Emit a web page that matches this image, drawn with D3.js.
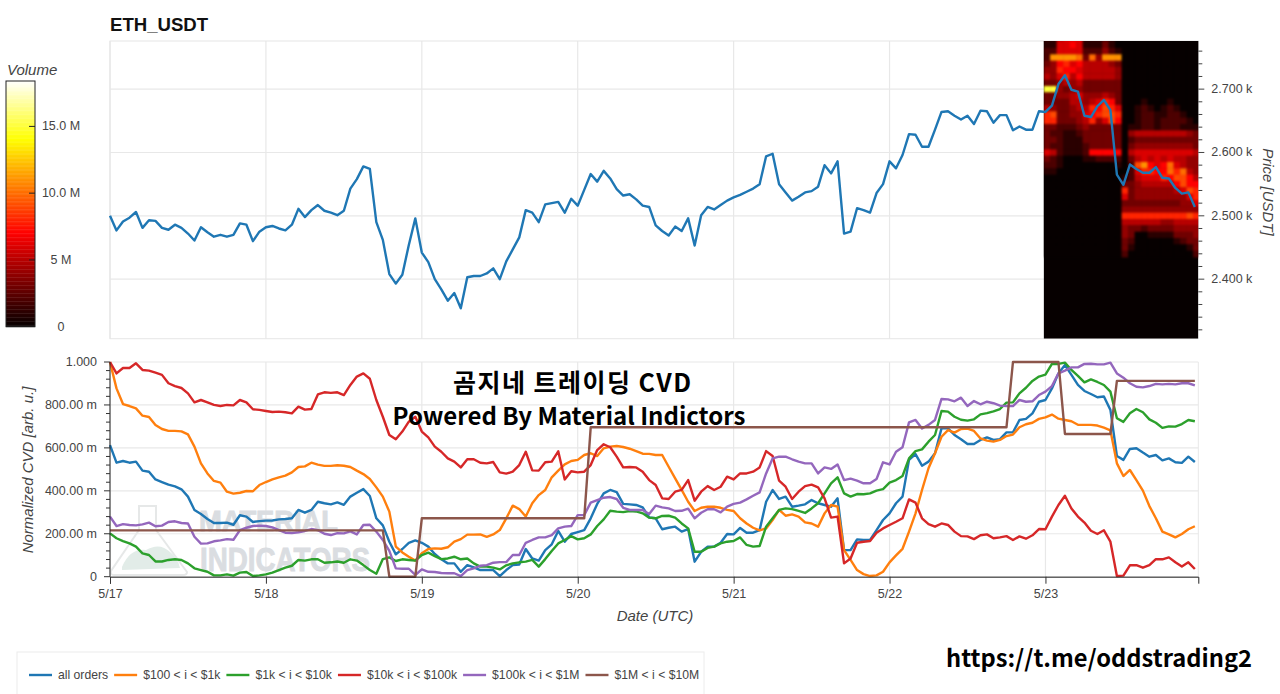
<!DOCTYPE html>
<html>
<head>
<meta charset="utf-8">
<title>ETH_USDT CVD</title>
<script src="https://cdn.jsdelivr.net/npm/d3@7/dist/d3.min.js"></script>
<style>
body { margin: 0; background: #fff; }
text { font-family: "Liberation Sans", Arial, sans-serif; }
</style>
</head>
<body>
<div id="chart"></div>
<script>
// hourly close, one value per hour from 5/17 00:00
var price = [2500,2477,2491,2497,2506,2481,2493,2492,2481,2478,2486,2481,2472,2461,2482,2474,2467,2470,2467,2470,2488,2486,2460,2475,
  2482,2484,2480,2477,2486,2511,2498,2509,2517,2508,2505,2501,2508,2543,2558,2578,2574,2490,2462,2408,2393,2407,2454,2496,
  2442,2427,2400,2384,2366,2378,2354,2403,2405,2405,2409,2417,2400,2428,2447,2466,2509,2505,2490,2518,2520,2522,2505,2527,
  2516,2541,2566,2554,2571,2559,2542,2532,2534,2526,2516,2514,2485,2476,2469,2483,2476,2496,2453,2501,2514,2510,2517,2524,
  2529,2533,2538,2543,2550,2594,2598,2550,2537,2524,2530,2537,2539,2546,2580,2567,2586,2472,2475,2512,2509,2505,2536,2550,
  2586,2575,2596,2629,2628,2609,2609,2636,2664,2665,2658,2652,2658,2645,2666,2665,2647,2659,2659,2635,2641,2636,2636,2665,
  2664,2674,2708,2722,2699,2696,2658,2656,2673,2683,2667,2565,2549,2581,2574,2568,2568,2577,2560,2559,2544,2535,2537,2514];

// normalized CVD in milli units
var cvdAll = [613,531,539,531,536,494,489,453,441,429,421,407,373,311,292,269,250,250,252,242,286,280,255,259,
  261,262,267,269,272,311,298,311,349,342,337,346,335,373,391,408,376,272,239,163,104,129,158,169,
  158,140,106,81,62,62,23,54,43,31,31,31,3,31,54,57,129,85,75,124,151,213,163,199,
  208,217,272,339,388,404,394,339,337,334,323,276,272,221,228,233,210,222,70,116,140,140,158,199,
  197,227,205,205,217,349,404,362,373,326,331,337,357,342,334,326,365,124,124,174,171,171,217,264,
  295,342,373,544,571,517,536,575,691,691,660,640,618,618,637,649,637,641,672,672,730,735,761,815,
  823,877,947,986,940,893,865,851,836,839,777,562,544,595,598,578,559,567,542,551,533,530,559,534];
var cvd100 = [1000,877,804,795,784,750,744,707,688,679,679,677,663,606,528,481,446,438,396,387,391,399,398,427,
  441,453,463,471,486,511,514,531,522,516,516,519,517,511,494,478,455,416,373,303,140,113,93,75,
  109,129,132,130,137,163,175,196,196,197,186,197,217,272,331,315,280,342,380,404,463,494,523,539,
  544,567,575,562,598,606,609,604,596,585,573,572,567,567,512,458,404,349,306,321,326,326,321,311,
  306,272,248,228,216,225,264,311,284,290,280,253,248,233,295,334,326,124,78,31,12,3,6,23,
  67,99,130,210,295,404,505,575,652,683,671,688,690,679,644,634,629,637,655,662,696,710,717,735,
  742,755,736,730,724,708,707,707,704,694,682,528,469,497,450,401,329,272,210,197,183,199,221,235];
var cvd1k = [202,179,166,155,140,109,101,71,71,78,81,78,62,39,31,23,6,6,11,5,19,22,3,6,
  11,19,31,42,51,78,75,81,81,65,67,71,65,81,75,54,31,14,82,90,73,81,78,75,
  101,112,96,82,85,93,81,85,62,47,47,42,34,53,62,67,70,78,47,82,120,155,171,189,
  174,179,197,236,267,307,303,301,306,304,295,275,272,283,284,275,248,225,116,116,134,140,155,163,
  166,183,148,140,143,233,272,311,318,315,307,297,318,342,388,435,463,388,373,385,384,388,401,408,
  438,450,469,551,585,593,629,660,772,769,745,731,727,733,756,762,770,781,811,812,854,880,912,932,
  941,991,991,997,963,935,905,919,907,893,862,738,721,761,781,766,733,717,693,700,699,711,730,724];
var cvd10k = [1000,947,972,972,994,963,960,950,940,901,888,879,854,812,823,812,800,795,800,798,823,812,780,777,
  772,767,769,766,761,792,778,781,849,859,856,859,846,893,932,947,922,823,745,660,640,676,722,745,
  676,649,606,582,551,536,509,547,547,531,528,534,486,480,489,520,582,495,494,533,536,584,453,491,
  486,489,520,590,617,603,559,509,511,509,489,450,427,365,362,396,404,450,354,396,422,404,419,466,
  453,481,481,489,509,585,562,447,419,362,396,422,429,416,365,275,280,62,85,158,163,166,205,225,
  241,256,272,360,345,272,245,233,248,241,210,189,188,175,193,197,179,183,189,171,188,177,193,222,
  221,280,334,377,318,280,252,214,199,216,163,3,5,53,54,42,54,82,81,90,67,47,67,36];
var cvd100k = [280,236,245,241,239,244,252,235,238,255,258,250,248,186,154,155,165,169,175,172,217,228,236,238,
  236,230,217,205,203,207,213,222,217,200,194,203,202,211,197,241,242,210,171,120,39,37,37,8,
  34,23,22,17,16,16,3,31,39,51,54,65,68,68,101,101,158,171,183,183,194,225,233,236,
  287,287,345,357,368,371,362,321,311,311,311,292,331,323,318,306,307,317,272,298,314,314,300,326,
  339,345,360,377,393,481,551,559,559,547,536,528,528,481,509,502,523,450,457,447,435,435,455,533,
  523,582,603,719,730,690,707,730,828,826,817,834,795,818,803,815,808,797,795,795,823,815,817,846,
  862,888,947,960,975,975,991,992,989,989,997,947,927,901,885,882,888,898,896,898,896,901,901,891];
var cvd1m = [216,216,216,216,216,216,216,216,216,216,216,216,216,216,216,216,216,216,216,216,216,216,216,216,
  216,216,216,216,216,216,216,216,216,216,216,216,216,216,216,216,216,216,216,0,0,0,0,0,
  272,272,272,272,272,272,272,272,272,272,272,272,272,272,272,272,272,272,272,272,272,272,272,272,
  272,272,696,696,696,696,696,696,696,696,696,696,696,696,696,696,696,696,696,696,696,696,696,696,
  696,696,696,696,696,696,696,696,696,696,696,696,696,696,696,696,696,696,696,696,696,696,696,696,
  696,696,696,696,696,696,696,696,696,696,696,696,696,696,696,696,696,696,696,1000,1000,1000,1000,1000,
  1000,1000,1000,665,665,665,665,665,665,665,665,912,912,912,912,912,912,912,912,912,912,912,912,912];

var seriesNames = ["all orders", "$100 < i < $1k", "$1k < i < $10k", "$10k < i < $100k", "$100k < i < $1M", "$1M < i < $10M"];
var seriesColors = ["#1f77b4", "#ff7f0e", "#2ca02c", "#d62728", "#9467bd", "#8c564b"];
var seriesValues = [cvdAll, cvd100, cvd1k, cvd10k, cvd100k, cvd1m];

// order book heatmap for 5/23: price level, then volume (M) for each hour
var bookPrices = [2780,2770,2760,2750,2740,2730,2720,2710,2700,2690,2680,2670,2660,2650,2640,2630,2620,2610,2600,2590,2580,2570,2560,2550,2540,2530,2520,2510,2500,2490,2480,2470,2460,2450,2440];
var bookVolume = [
  [1,1,5,6,6,6,1,1,1,2,1,0,0,0,0,0,0,0,0,0,0,0,0,0],
  [1,1,6,6,7,6,1,1,1,3,1,0,0,0,0,0,0,0,0,0,0,0,0,0],
  [2,2,6,6,6,6,2,2,2,4,2,1,0,0,0,0,0,0,0,0,0,0,0,0],
  [2,11,11,11,11,10,3,10,4,11,11,11,0,0,0,0,0,0,0,0,0,0,0,0],
  [3,4,7,8,6,7,5,5,5,5,4,3,0,0,0,0,0,0,0,0,0,0,0,0],
  [4,4,8,7,7,6,5,5,5,5,5,4,0,0,0,0,0,0,0,0,0,0,0,0],
  [5,4,6,8,5,7,5,5,5,5,5,4,0,0,0,0,0,0,0,0,0,0,0,0],
  [3,3,4,5,4,5,3,3,3,3,3,3,0,0,0,0,0,0,0,0,0,0,0,0],
  [15,15,4,3,4,4,3,3,3,3,3,3,0,0,0,0,0,0,0,0,0,0,0,0],
  [3,3,4,4,5,6,4,4,4,5,4,3,0,0,0,0,0,0,0,0,0,0,0,0],
  [3,3,3,3,5,5,4,5,6,8,7,3,0,0,0,1,0,0,0,1,0,0,0,0],
  [5,4,3,3,4,5,5,8,7,9,8,6,0,0,1,2,1,0,1,2,1,0,0,0],
  [8,9,3,3,4,4,6,7,8,9,9,8,0,0,1,2,2,1,1,2,2,1,0,0],
  [8,8,3,3,3,4,5,8,4,6,9,7,0,0,1,2,2,1,2,2,2,2,1,0],
  [3,3,2,2,2,3,4,3,3,3,3,3,0,1,1,2,2,1,2,2,2,1,1,1],
  [3,2,2,1,1,2,3,3,3,3,3,3,0,4,5,5,5,5,5,5,5,5,4,3],
  [3,3,2,1,1,1,3,3,3,3,3,3,0,2,3,3,3,3,3,3,3,3,3,3],
  [3,2,2,1,1,1,2,3,3,3,3,3,0,3,4,4,4,4,4,4,4,4,4,3],
  [6,5,2,1,1,1,2,7,7,7,7,7,0,5,6,6,6,6,6,6,6,6,6,5],
  [3,2,1,0,0,0,1,1,2,2,2,2,0,3,5,6,5,6,5,6,5,5,4,4],
  [2,2,1,0,0,0,0,0,0,0,0,1,0,2,9,11,7,6,7,10,6,5,4,4],
  [1,1,0,0,0,0,0,0,0,0,0,0,0,2,6,8,8,7,7,10,8,10,5,4],
  [0,0,0,0,0,0,0,0,0,0,0,0,1,2,5,6,6,6,8,7,9,9,7,5],
  [0,0,0,0,0,0,0,0,0,0,0,0,3,3,4,5,5,5,5,5,7,9,7,7],
  [0,0,0,0,0,0,0,0,0,0,0,0,8,3,4,4,4,4,4,4,5,6,9,8],
  [0,0,0,0,0,0,0,0,0,0,0,0,6,3,4,4,4,4,4,4,4,4,6,8],
  [0,0,0,0,0,0,0,0,0,0,0,0,3,3,3,3,3,3,3,3,3,4,4,6],
  [0,0,0,0,0,0,0,0,0,0,0,0,4,4,4,4,4,4,4,4,4,4,4,4],
  [0,0,0,0,0,0,0,0,0,0,0,0,8,8,8,8,8,8,8,8,8,8,9,8],
  [0,0,0,0,0,0,0,0,0,0,0,0,5,5,5,5,5,5,4,4,5,5,5,5],
  [0,0,0,0,0,0,0,0,0,0,0,0,4,3,3,2,3,3,3,3,4,4,4,4],
  [0,0,0,0,0,0,0,0,0,0,0,0,4,3,0,0,1,1,1,1,3,3,3,4],
  [0,0,0,0,0,0,0,0,0,0,0,0,3,2,0,0,0,0,0,0,1,2,3,3],
  [0,0,0,0,0,0,0,0,0,0,0,0,3,1,0,0,0,0,0,0,0,0,1,3],
  [0,0,0,0,0,0,0,0,0,0,0,0,2,0,0,0,0,0,0,0,0,0,0,2]
];

var priceTicks = [2400, 2500, 2600, 2700];
var cvdTicks = [0, 200, 400, 600, 800, 1000];
var volumeTicks = [0, 5, 10, 15];

var width = 1280, height = 694;
var svg = d3.select("#chart").append("svg")
  .attr("width", width).attr("height", height)
  .style("display", "block");

var startDate = Date.UTC(2025, 4, 17);
function hourDate(i) { return new Date(startDate + i * 3600000); }

var x = d3.scaleUtc().domain([hourDate(0), hourDate(167.53)]).range([110, 1198.3]);
var yPrice = d3.scaleLinear().domain([2306, 2776]).range([338.7, 41]);
var yCvd = d3.scaleLinear().domain([0, 1000]).range([576.7, 362]);
var yVolume = d3.scaleLinear().domain([0, 18.4]).range([326.7, 81]);
var heat = d3.scaleLinear().domain([0, 7, 14, 18.4]).range(["#060000", "#ff0000", "#ffff00", "#ffffff"]);

var dayTicks = d3.utcDay.range(hourDate(0), hourDate(168));
var axisColor = "#444";

// title
svg.append("text").attr("x", 110).attr("y", 31).attr("font-size", 18.6).attr("font-weight", "bold")
  .attr("fill", "#111").text("ETH_USDT");

// --- top panel ---
var topPanel = svg.append("g");
topPanel.selectAll(".gridx").data(dayTicks).enter().append("line")
  .attr("x1", function(d){ return x(d); }).attr("x2", function(d){ return x(d); })
  .attr("y1", yPrice.range()[1]).attr("y2", yPrice.range()[0])
  .attr("stroke", "#e8e8e8").attr("stroke-width", 1.2);
topPanel.selectAll(".gridy").data(priceTicks).enter().append("line")
  .attr("x1", x.range()[0]).attr("x2", x.range()[1])
  .attr("y1", function(d){ return yPrice(d); }).attr("y2", function(d){ return yPrice(d); })
  .attr("stroke", "#e8e8e8").attr("stroke-width", 1.2);
topPanel.append("rect").attr("x", x.range()[0]).attr("y", yPrice.range()[1])
  .attr("width", x.range()[1] - x.range()[0]).attr("height", yPrice.range()[0] - yPrice.range()[1])
  .attr("fill", "none").attr("stroke", "#e6e6e6");

// heatmap, columns start a bit before the hour
var hourOffset = 144 - 0.28;
var heatLeft = x(hourDate(hourOffset));
svg.append("clipPath").attr("id", "plotClip").append("rect")
  .attr("x", heatLeft).attr("y", yPrice.range()[1])
  .attr("width", x.range()[1] - heatLeft).attr("height", yPrice.range()[0] - yPrice.range()[1]);
var soften = svg.append("filter").attr("id", "soften")
  .attr("filterUnits", "userSpaceOnUse")
  .attr("color-interpolation-filters", "sRGB")
  .attr("x", heatLeft - 10).attr("y", 20).attr("width", 180).attr("height", 340);
soften.append("feGaussianBlur").attr("stdDeviation", 0.8);

var heatClip = topPanel.append("g").attr("clip-path", "url(#plotClip)");
heatClip.append("rect")
  .attr("x", heatLeft).attr("y", yPrice.range()[1])
  .attr("width", x.range()[1] - heatLeft).attr("height", yPrice.range()[0] - yPrice.range()[1])
  .attr("fill", heat(0));
var heatGroup = heatClip.append("g").attr("filter", "url(#soften)");
bookVolume.forEach(function(row, r) {
  heatGroup.selectAll(".row" + r).data(row).enter().append("rect")
    .attr("x", function(d, c){ return x(hourDate(hourOffset + c)); })
    .attr("y", yPrice(bookPrices[r] + 5))
    .attr("width", x(hourDate(1)) - x(hourDate(0)) + 0.4)
    .attr("height", yPrice(bookPrices[r] - 5) - yPrice(bookPrices[r] + 5) + 0.4)
    .attr("fill", function(d){ return heat(d); });
});

topPanel.append("path").datum(price)
  .attr("fill", "none").attr("stroke", "#1f77b4").attr("stroke-width", 2.4).attr("stroke-linejoin", "round")
  .attr("d", d3.line().x(function(d, i){ return x(hourDate(i)); }).y(function(d){ return yPrice(d); }));

// right price axis, minor ticks every 20
var priceAxis = svg.append("g").attr("transform", "translate(" + x.range()[1] + ",0)");
priceAxis.selectAll("line").data(d3.range(2320, 2776, 20)).enter().append("line")
  .attr("x1", 0)
  .attr("x2", function(d){ return d % 100 == 0 ? 6 : 4; })
  .attr("y1", function(d){ return yPrice(d); }).attr("y2", function(d){ return yPrice(d); })
  .attr("stroke", axisColor);
priceAxis.selectAll("text").data(priceTicks).enter().append("text")
  .attr("x", 13).attr("y", function(d){ return yPrice(d) + 4; })
  .attr("font-size", 12.5).attr("fill", axisColor)
  .text(function(d){ return (d / 1000).toFixed(3) + " k"; });
svg.append("text").attr("transform", "translate(1263,192) rotate(90)")
  .attr("text-anchor", "middle").attr("font-size", 15).attr("font-style", "italic").attr("fill", axisColor)
  .text("Price [USDT]");

// --- volume colorbar ---
var bar = svg.append("g");
bar.selectAll("rect").data(d3.range(0, 18.4, 0.1)).enter().append("rect")
  .attr("x", 6).attr("width", 29)
  .attr("y", function(d){ return yVolume(d + 0.1); })
  .attr("height", function(d){ return yVolume(d) - yVolume(d + 0.1) + 0.4; })
  .attr("fill", function(d){ return heat(d); });
bar.append("rect").attr("x", 6).attr("y", yVolume.range()[1]).attr("width", 29)
  .attr("height", yVolume.range()[0] - yVolume.range()[1])
  .attr("fill", "none").attr("stroke", "#222");
bar.selectAll(".tick").data(volumeTicks.slice(1)).enter().append("line")
  .attr("x1", 29).attr("x2", 35)
  .attr("y1", function(d){ return yVolume(d); }).attr("y2", function(d){ return yVolume(d); })
  .attr("stroke", "#222");
svg.selectAll(".volumeLabel").data(volumeTicks).enter().append("text")
  .attr("x", 61).attr("y", function(d){ return yVolume(d) + 4; })
  .attr("text-anchor", "middle").attr("font-size", 12.5).attr("fill", axisColor)
  .text(function(d){ return d == 0 ? "0" : d == 5 ? "5 M" : d.toFixed(1) + " M"; });
svg.append("text").attr("x", 7).attr("y", 75).attr("font-size", 15).attr("font-style", "italic")
  .attr("fill", axisColor).text("Volume");

// --- bottom panel ---
var bottomPanel = svg.append("g");
bottomPanel.selectAll(".gridx").data(dayTicks).enter().append("line")
  .attr("x1", function(d){ return x(d); }).attr("x2", function(d){ return x(d); })
  .attr("y1", yCvd.range()[1]).attr("y2", yCvd.range()[0])
  .attr("stroke", "#e8e8e8").attr("stroke-width", 1.2);
bottomPanel.selectAll(".gridy").data(cvdTicks).enter().append("line")
  .attr("x1", x.range()[0]).attr("x2", x.range()[1])
  .attr("y1", function(d){ return yCvd(d); }).attr("y2", function(d){ return yCvd(d); })
  .attr("stroke", "#e8e8e8").attr("stroke-width", 1.2);
bottomPanel.append("line").attr("x1", x.range()[1]).attr("x2", x.range()[1])
  .attr("y1", yCvd.range()[1]).attr("y2", yCvd.range()[0]).attr("stroke", "#e8e8e8");

// watermark sits under the lines
var mark = bottomPanel.append("g");
mark.append("path")
  .attr("d", "M139 506 L156 506 L156 530 L187 572 Q187 575 183 575 L114 575 Q110 575 111 571 L139 530 Z")
  .attr("fill", "none").attr("stroke", "#e6e8e8").attr("stroke-width", 2);
mark.append("path")
  .attr("d", "M122 567 Q130 548 146 550 Q160 542 170 552 Q178 558 180 568 L122 570 Z")
  .attr("fill", "#e2ece8");
mark.append("text").attr("x", 199).attr("y", 531).attr("font-size", 29).attr("font-weight", "bold")
  .attr("textLength", 139).attr("lengthAdjust", "spacingAndGlyphs")
  .attr("fill", "#dadde1").attr("stroke", "#dadde1").attr("stroke-width", 0.9).text("MATERIAL");
mark.append("text").attr("x", 200).attr("y", 571).attr("font-size", 33).attr("font-weight", "bold")
  .attr("textLength", 170).attr("lengthAdjust", "spacingAndGlyphs")
  .attr("fill", "#dadde1").attr("stroke", "#dadde1").attr("stroke-width", 0.9).text("INDICATORS");

var cvdLine = d3.line().x(function(d, i){ return x(hourDate(i)); }).y(function(d){ return yCvd(d); });
bottomPanel.selectAll(".cvd").data(seriesValues).enter().append("path")
  .attr("fill", "none").attr("stroke-width", 2.4).attr("stroke-linejoin", "round")
  .attr("stroke", function(d, i){ return seriesColors[i]; })
  .attr("d", cvdLine);

// left axis
var cvdAxis = svg.append("g").attr("transform", "translate(" + x.range()[0] + ",0)").attr("fill", axisColor);
cvdAxis.append("line").attr("y1", yCvd.range()[1]).attr("y2", yCvd.range()[0]).attr("stroke", "#222");
cvdAxis.selectAll(".minor").data(d3.range(0, 1001, 40)).enter().append("line")
  .attr("x1", function(d){ return d % 200 == 0 ? -6 : -4; }).attr("x2", 0)
  .attr("y1", function(d){ return yCvd(d); }).attr("y2", function(d){ return yCvd(d); })
  .attr("stroke", "#333");
cvdAxis.selectAll("text").data(cvdTicks).enter().append("text")
  .attr("x", -13).attr("y", function(d){ return yCvd(d) + 4; })
  .attr("text-anchor", "end").attr("font-size", 12.5)
  .text(function(d){ return d == 0 ? "0" : d == 1000 ? "1.000" : d.toFixed(2) + " m"; });
svg.append("text").attr("transform", "translate(33,470) rotate(-90)")
  .attr("text-anchor", "middle").attr("font-size", 15).attr("font-style", "italic").attr("fill", axisColor)
  .text("Normalized CVD [arb. u.]");

// bottom axis
var dateAxis = svg.append("g").attr("transform", "translate(0," + yCvd.range()[0] + ")")
  .call(d3.axisBottom(x).tickValues(dayTicks).tickFormat(d3.utcFormat("%-m/%-d")).tickSizeOuter(0).tickSize(7).tickPadding(5));
dateAxis.select(".domain").attr("stroke", "#222");
dateAxis.selectAll(".tick line").attr("stroke", "#333");
dateAxis.selectAll(".tick text").attr("font-size", 12.5).attr("fill", axisColor)
  .attr("font-family", "'Liberation Sans', Arial, sans-serif");
svg.append("text").attr("x", 655).attr("y", 621).attr("text-anchor", "middle")
  .attr("font-size", 15).attr("font-style", "italic").attr("fill", axisColor).text("Date (UTC)");

// overlay titles pasted on the picture
svg.append("text").attr("x", 453).attr("y", 392)
  .style("font-family", "'Noto Sans CJK KR'")
  .attr("font-size", 25).attr("font-weight", "bold").attr("fill", "#000")
  .attr("textLength", 238).attr("lengthAdjust", "spacing").text("곰지네 트레이딩 CVD");
svg.append("text").attr("x", 569).attr("y", 425).attr("text-anchor", "middle")
  .style("font-family", "'Noto Sans CJK KR'")
  .attr("font-size", 24).attr("font-weight", "bold").attr("fill", "#000").text("Powered By Material Indictors");
svg.append("text").attr("x", 1099).attr("y", 667).attr("text-anchor", "middle")
  .style("font-family", "'Noto Sans CJK KR'")
  .attr("font-size", 23.7).attr("font-weight", "bold").attr("fill", "#000").text("https://t.me/oddstrading2");

// legend
var legend = svg.append("g");
legend.append("rect").attr("x", 17).attr("y", 652).attr("width", 687).attr("height", 50)
  .attr("fill", "#fff").attr("stroke", "#ececec");
var cursor = 29;
seriesNames.forEach(function(name, i) {
  legend.append("line").attr("x1", cursor).attr("x2", cursor + 23).attr("y1", 675).attr("y2", 675)
    .attr("stroke", seriesColors[i]).attr("stroke-width", 2.4);
  var label = legend.append("text").attr("x", cursor + 29).attr("y", 679)
    .attr("font-size", 12.2).attr("fill", axisColor).text(name);
  cursor += 29 + label.node().getComputedTextLength() + 6;
});
</script>
</body>
</html>
